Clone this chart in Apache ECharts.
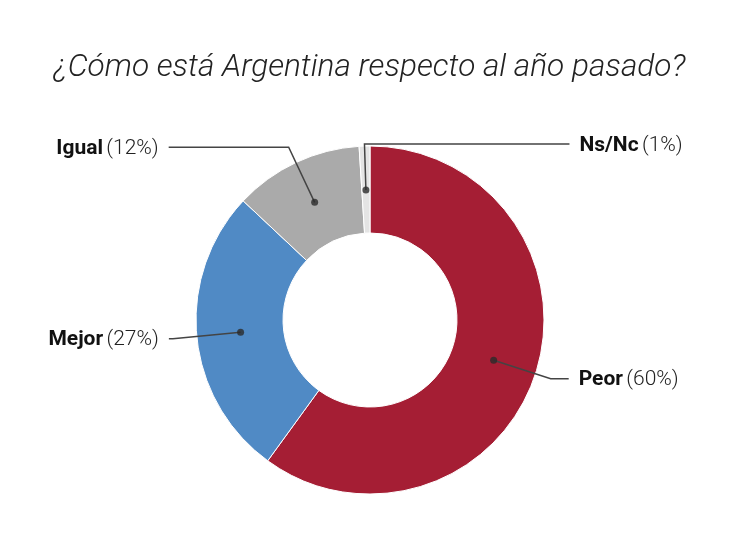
<!DOCTYPE html>
<html>
<head>
<meta charset="utf-8">
<script src="https://cdn.jsdelivr.net/npm/echarts@6/dist/echarts.min.js"></script>
<style>
  html, body { margin: 0; padding: 0; background: #fff; }
  #chart { width: 739px; height: 557px; }
</style>
</head>
<body>
<div id="chart"></div>
<script>
// datos
const categories = ['Peor', 'Mejor', 'Igual', 'Ns/Nc']
const values = [60, 27, 12, 1]

// estilo
const colors = ['#a51e34', '#508ac5', '#aaaaaa', '#e4e4e4']
const lineLen = [60, 68, 61, 46]
const lineLen2 = [18, 4, 120, 0]

const CX = 370
const CY = 320
const total = values.reduce((a, b) => a + b, 0)

// punto medio de cada porción (en % del total) para los puntos negros
const mids = []
let acc = 0
values.forEach(v => {
  mids.push(((acc + v / 2) / total) * 100)
  acc += v
})

const chart = echarts.init(document.getElementById('chart'))

const option = {
  backgroundColor: '#fff',
  animation: false,
  title: {
    text: '¿Cómo está Argentina respecto al año pasado?',
    left: 'center',
    top: 47,
    textStyle: {
      fontFamily: 'Roboto',
      fontStyle: 'italic',
      fontWeight: 300,
      fontSize: 31.6,
      color: '#222'
    }
  },
  polar: {
    center: [CX, CY],
    radius: 130
  },
  angleAxis: {
    type: 'value',
    min: 0,
    max: 100,
    startAngle: 90,
    clockwise: true,
    show: false
  },
  radiusAxis: {
    type: 'value',
    min: 0,
    max: 1,
    show: false
  },
  series: [
    {
      type: 'pie',
      z: 1,
      center: [CX, CY],
      radius: [87, 174],
      startAngle: 90,
      silent: true,
      label: { show: false },
      labelLine: { show: false },
      itemStyle: { borderColor: '#fff', borderWidth: 1 },
      data: categories.map((name, i) => ({
        name,
        value: values[i],
        itemStyle: { color: colors[i] }
      }))
    },
    {
      // serie invisible solo para las etiquetas
      type: 'pie',
      z: 3,
      center: [CX, CY],
      radius: 130,
      startAngle: 90,
      silent: true,
      avoidLabelOverlap: false,
      itemStyle: { color: 'transparent' },
      label: {
        show: true,
        formatter: '{b|{b}} {c|({c}%)}',
        distanceToLabelLine: 10,
        rich: {
          b: { fontFamily: 'Roboto', fontWeight: 'bold', fontSize: 21, color: '#111', padding: [3, 0, 0, 0] },
          c: { fontFamily: 'Roboto', fontWeight: 300, fontSize: 21, color: '#222', padding: [3, 0, 0, 0] }
        }
      },
      labelLine: {
        show: true,
        lineStyle: { color: '#444', width: 1.5 }
      },
      labelLayout: function (params) {
        // Ns/Nc: la línea sale hacia la derecha
        if (params.dataIndex === 3 && params.labelLinePoints) {
          const p = params.labelLinePoints
          const end = [p[1][0] + 205, p[1][1]]
          return {
            x: end[0] + 10,
            y: end[1],
            align: 'left',
            verticalAlign: 'middle',
            labelLinePoints: [p[0], p[1], end]
          }
        }
        return {}
      },
      data: categories.map((name, i) => ({
        name,
        value: values[i],
        labelLine: { length: lineLen[i], length2: lineLen2[i] }
      }))
    },
    {
      type: 'scatter',
      coordinateSystem: 'polar',
      z: 4,
      symbol: 'circle',
      symbolSize: 7,
      silent: true,
      itemStyle: { color: '#2a2a2a' },
      data: mids.map(m => [1, m])
    }
  ]
}

chart.setOption(option)
</script>
</body>
</html>
